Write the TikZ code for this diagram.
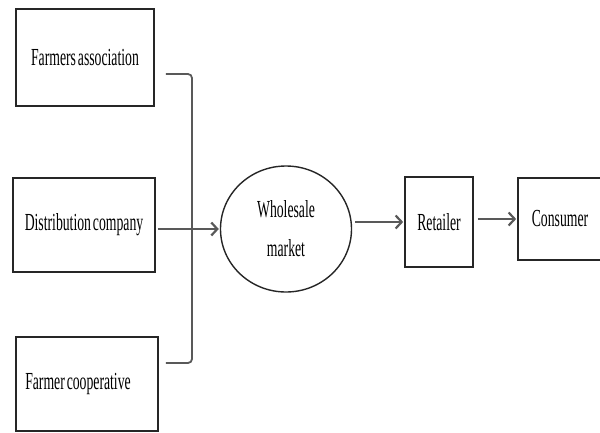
\documentclass[tikz,border=0pt]{standalone}
\usepackage{fontspec}
\setmainfont{Liberation Serif}[FakeStretch=0.56,WordSpace=0.55]
\usetikzlibrary{shapes,arrows.meta,positioning}

\begin{document}
\begin{tikzpicture}[x=1pt,y=-1pt,>={Straight Barb[length=6pt,width=13pt]},
    font=\fontsize{24.5}{28}\selectfont]
\tikzstyle{box}=[rectangle, draw=black!85, line width=1.7pt, inner sep=0pt]
\tikzstyle{market}=[ellipse, draw=black!85, line width=1.4pt, inner sep=0pt]
\tikzstyle{flow}=[->, draw=black!65, line width=2.2pt, shorten >=1pt]
\tikzstyle{bracket}=[draw=black!65, line width=1.8pt, rounded corners=4pt]

\useasboundingbox (0,0) rectangle (600,432);

\node[box, minimum width=138pt, minimum height=97pt]  (fa) at (85,57.5)  {Farmers association};
\node[box, minimum width=142pt, minimum height=94pt]  (dc) at (84,225)   {Distribution company};
\node[box, minimum width=142pt, minimum height=94pt]  (fc) at (87,384)   {Farmer cooperative\hspace*{18pt}};

\node[market, minimum width=131pt, minimum height=126pt, align=center,
      font=\fontsize{24.5}{39}\selectfont]            (wm) at (286,229)  {Wholesale\\market};
\node[box, minimum width=68pt, minimum height=90pt]   (rt) at (439,222)  {Retailer};
\node[box, minimum width=84pt, minimum height=82pt]   (cs) at (560,219)  {Consumer};

\coordinate (jt) at (192,74);
\coordinate (jb) at (192,363);

\draw[bracket] ([xshift=11pt]fa.east |- jt) -- (jt) -- (jb) -- ([xshift=7pt]fc.east |- jb);

\draw[flow] ([xshift=2pt]dc.east |- wm) -- (wm);
\draw[flow] ([xshift=3pt]wm.east |- rt) -- (rt.west);
\draw[flow] ([xshift=4pt]rt.east |- cs) -- (cs.west);

\end{tikzpicture}
\end{document}
